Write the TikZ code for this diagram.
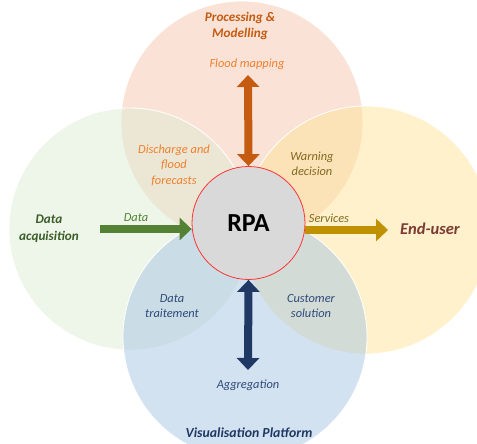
\documentclass[tikz,border=0pt]{standalone}
\usepackage{fontspec}
\setmainfont{Carlito}
\usetikzlibrary{arrows.meta}
\definecolor{peach}{HTML}{F5C7AD}
\definecolor{lgreen}{HTML}{DDEBD3}
\definecolor{lyellow}{HTML}{FFE399}
\definecolor{lblue}{HTML}{A7C5E1}
\definecolor{aorange}{HTML}{C55A11}
\definecolor{agreen}{HTML}{548235}
\definecolor{ayellow}{HTML}{BF9000}
\definecolor{anavy}{HTML}{1F3864}
\definecolor{torange}{HTML}{F07F2E}
\definecolor{tolive}{HTML}{7F6A1E}
\definecolor{tdgreen}{HTML}{3B5E28}
\definecolor{tbrown}{HTML}{7B3A33}
\definecolor{tblue}{HTML}{2E4A7A}
\definecolor{rpagray}{HTML}{D9D9D9}
\definecolor{rpared}{HTML}{FF3333}
\tikzset{
  petal/.style={circle, draw=white, line width=0.8pt, fill opacity=0.5, minimum size=#1},
  title/.style={font=\bfseries\itshape\fontsize{13.2}{16.5}\selectfont, align=center, inner sep=0pt},
  lab/.style={font=\itshape\fontsize{12.4}{15.5}\selectfont, align=center, inner sep=0pt},
  bigarrow/.style={line width=8pt, -{Triangle[length=12pt,width=22pt]}},
  dblarrow/.style={line width=8pt, {Triangle[length=12pt,width=22pt]}-{Triangle[length=12pt,width=22pt]}}
}
\begin{document}
\begin{tikzpicture}[x=1pt,y=-1pt]
\useasboundingbox (0,0) rectangle (477,444);
\begin{scope}
\clip (0,0) rectangle (477,444);
\node[petal=242pt, fill=peach] (ptop) at (242,122) {};
\node[petal=242pt, fill=lgreen] (pleft) at (130,229) {};
\node[petal=248pt, fill=lyellow] (pright) at (366,230) {};
\node[petal=244pt, fill=lblue] (pbottom) at (245,337) {};
\end{scope}
\node[circle, draw=rpared, line width=0.8pt, fill=rpagray, minimum size=113pt, inner sep=0pt,
  font=\bfseries\fontsize{26}{28}\selectfont] (rpa) at (248.5,223) {RPA};
% arrows
\coordinate (gstart) at (100,229);
\coordinate (ytip) at (388,230);
\coordinate (otop) at (248,75);
\coordinate (nbot) at (248,370);
\draw[bigarrow, agreen] (gstart) -- (rpa.west |- gstart);
\draw[bigarrow, ayellow] (rpa.east |- ytip) -- (ytip);
\draw[dblarrow, aorange] (otop) -- (rpa.north);
\draw[dblarrow, anavy] (rpa.south) -- (nbot);
% titles
\node[title, text=aorange] (tproc) at (240,26) {Processing \&\\Modelling};
\node[title, text=tdgreen] (tacq) at (49,229) {Data\\acquisition};
\node[title, text=tbrown, font=\bfseries\itshape\fontsize{16.5}{18}\selectfont] (tend) at (430,229) {End-user};
\node[title, text=anavy, font=\bfseries\itshape\fontsize{13.8}{16}\selectfont] (tvis) at (249,433) {Visualisation Platform};
% labels
\node[lab, text=torange] (lflood) at (247,64) {Flood mapping};
\node[lab, text=torange] (ldis) at (174,165) {Discharge and\\flood\\forecasts};
\node[lab, text=tolive] (lwarn) at (312,164) {Warning\\decision};
\node[lab, text=agreen] (ldata) at (136,218) {Data};
\node[lab, text=tolive] (lserv) at (329,218) {Services};
\node[lab, text=tblue] (ltrait) at (172,306) {Data\\traitement};
\node[lab, text=tblue] (lcust) at (311,306) {Customer\\solution};
\node[lab, text=tblue] (lagg) at (248,385) {Aggregation};
\end{tikzpicture}
\end{document}
